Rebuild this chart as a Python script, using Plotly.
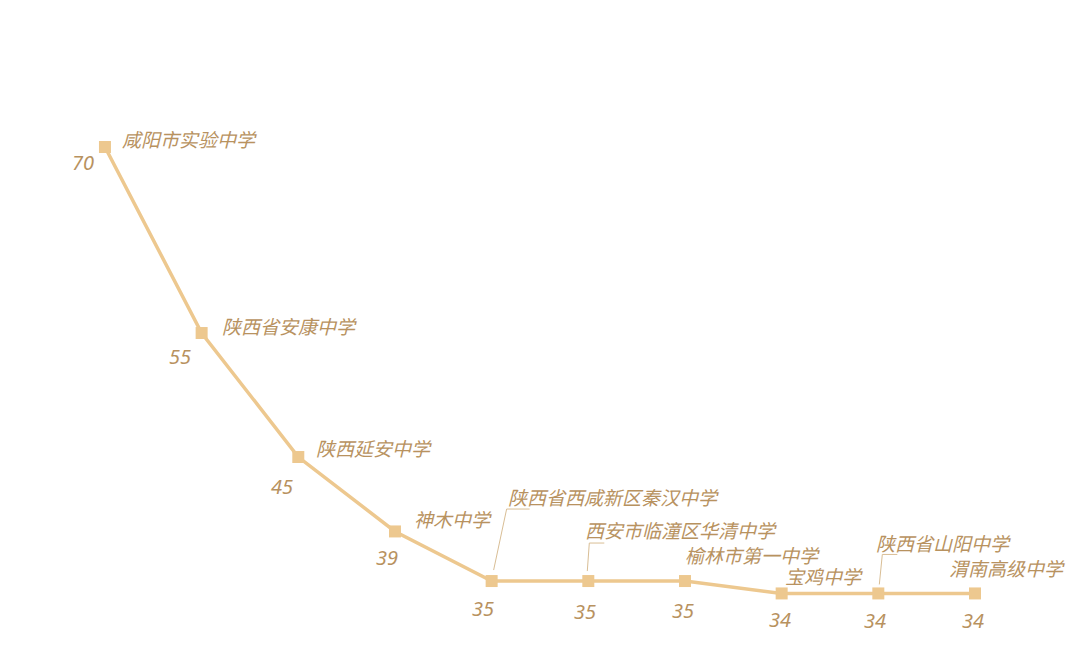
import plotly.graph_objects as go

schools = ["咸阳市实验中学", "陕西省安康中学", "陕西延安中学", "神木中学", "陕西省西咸新区秦汉中学",
           "西安市临潼区华清中学", "榆林市第一中学", "宝鸡中学", "陕西省山阳中学", "渭南高级中学"]
counts = [70, 55, 45, 39, 35, 35, 35, 34, 34, 34]

# label placement offsets (pixels) relative to each point
name_dx = [15, 18, 16, 17, 14, -5, -2, 1, -4, -28]
name_dy = [7, 6, 8, 11, 83, 50, 25, 16, 49, 24]
val_dx = [-22, -22, -16, -8, -9, -3, -2, -2, -3, -2]
val_dy = [-15, -23, -29, -26, -27, -30, -29, -26, -27, -27]
# leader lines for crowded labels: index -> pixel path points
leaders = {4: [(2, 11), (15, 72), (38, 72)],
           5: [(-1, 10), (1, 38), (16, 38)],
           8: [(1, 9), (4, 39), (19, 39)]}

LINE = "#EDC88F"
TEXT = "#B8925F"
FONT = "Noto Sans, Noto Sans CJK SC"

xs = list(range(len(schools)))

fig = go.Figure()
fig.add_trace(go.Scatter(
    x=xs, y=counts, mode="lines+markers",
    line=dict(color=LINE, width=3.5),
    marker=dict(symbol="square", size=12, color=LINE),
    hoverinfo="skip", showlegend=False,
))

annotations = []
for i, (s, c) in enumerate(zip(schools, counts)):
    annotations.append(dict(
        x=i, y=c, xref="x", yref="y", text=f"<i>{s}</i>", showarrow=False,
        xanchor="left", yanchor="middle", xshift=name_dx[i], yshift=name_dy[i],
        font=dict(family=FONT, size=19, color=TEXT)))
    annotations.append(dict(
        x=i, y=c, xref="x", yref="y", text=f"<i>{c}</i>", showarrow=False,
        xanchor="center", yanchor="middle", xshift=val_dx[i], yshift=val_dy[i],
        font=dict(family=FONT, size=20, color=TEXT)))

shapes = []
for i, pts in leaders.items():
    path = "M " + " L ".join(f"{px},{py}" for px, py in pts)
    shapes.append(dict(
        type="path", xref="x", yref="y", xsizemode="pixel", ysizemode="pixel",
        xanchor=xs[i], yanchor=counts[i], path=path,
        line=dict(color="#D9BE95", width=1)))

fig.update_layout(
    width=1080, height=672,
    margin=dict(l=0, r=0, t=0, b=0),
    paper_bgcolor="white", plot_bgcolor="white",
    xaxis=dict(range=[-1.003, 10.169], visible=False),
    yaxis=dict(range=[27.02, 81.21], visible=False),
    annotations=annotations, shapes=shapes,
)

fig.write_html("out.html")
